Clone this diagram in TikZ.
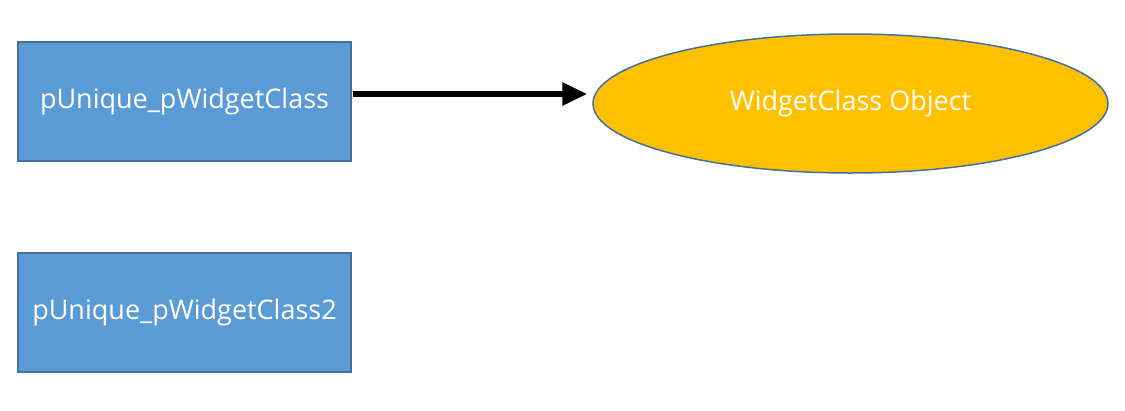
\documentclass[tikz,border=0pt]{standalone}
\usepackage{fontspec}
\setmainfont{Open Sans}
\usetikzlibrary{shapes.geometric,arrows.meta}
\definecolor{boxblue}{HTML}{5B9BD5}
\definecolor{edgeblue}{HTML}{41719C}
\definecolor{objorange}{HTML}{FFC000}
\tikzset{
  classbox/.style={draw=edgeblue, line width=1.5pt, fill=boxblue, minimum width=333pt, minimum height=119pt, inner sep=0pt, text=white, font=\fontsize{27}{32}\selectfont},
  objell/.style={ellipse, draw=edgeblue, line width=1.5pt, fill=objorange, minimum width=515pt, minimum height=139pt, inner sep=0pt, text=white, font=\fontsize{27}{32}\selectfont},
  ptr/.style={line width=6pt, -{Triangle[length=25pt,width=22pt]}}
}
\begin{document}
\begin{tikzpicture}[x=1pt,y=-1pt]
\useasboundingbox (0,0) rectangle (1125,410);
\node[classbox] (a) at (184.5,101.5) {pUnique\_pWidgetClass};
\node[classbox] (b) at (184.5,312.5) {pUnique\_pWidgetClass2};
\node[objell] (o) at (850.5,103.5) {WidgetClass Object};
\draw[ptr] ([xshift=0.75pt,yshift=7.5pt]a.east) -- ([xshift=-5pt,yshift=9.5pt]o.west);
\end{tikzpicture}
\end{document}
